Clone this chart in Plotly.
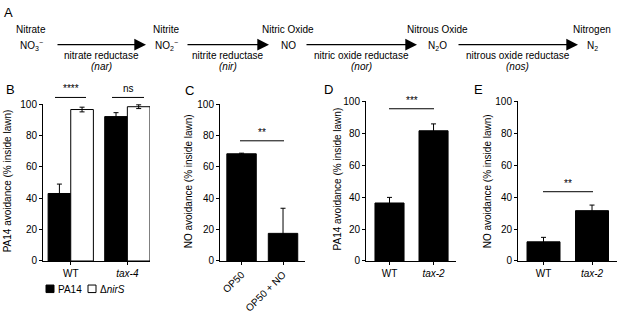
import plotly.graph_objects as go

W, H = 617, 314
FONT = "Liberation Sans, Arial, sans-serif"

# ---------------- data ----------------
b_groups = ["WT", "<i>tax-4</i>"]
b_pa14 = [43.0, 92.0]
b_pa14_err = [6.0, 2.5]
b_nirs = [96.5, 98.3]
b_nirs_err = [1.5, 1.2]

c_cats = ["OP50", "OP50 + NO"]
c_vals = [68.3, 17.6]
c_err = [0.4, 16.0]

d_cats = ["WT", "<i>tax-2</i>"]
d_vals = [36.3, 81.5]
d_err = [3.5, 4.3]

e_cats = ["WT", "<i>tax-2</i>"]
e_vals = [12.0, 31.5]
e_err = [2.8, 3.5]

y_ticks = [0, 20, 40, 60, 80, 100]

# pathway (panel A)
species = ["Nitrate", "Nitrite", "Nitric Oxide", "Nitrous Oxide", "Nitrogen"]
formulas = ["NO<sub>3</sub><sup>\u2212</sup>", "NO<sub>2</sub><sup>\u2212</sup>", "NO",
            "N<sub>2</sub>O", "N<sub>2</sub>"]
enzymes = ["nitrate reductase", "nitrite reductase", "nitric oxide reductase",
           "nitrous oxide reductase"]
genes = ["nar", "nir", "nor", "nos"]


def px(x):
    return x / W


def py(y):
    return 1 - y / H


fig = go.Figure()

err_style = dict(type="data", visible=True, color="black", thickness=1, width=2.5)

# Panel B
fig.add_trace(go.Bar(x=b_groups, y=b_pa14, width=0.4, offset=-0.4, marker=dict(color="black", line=dict(color="black", width=1)),
                     error_y=dict(array=b_pa14_err, **err_style), xaxis="x", yaxis="y", showlegend=False))
fig.add_trace(go.Bar(x=b_groups, y=b_nirs, width=0.4, offset=0.0, marker=dict(color="white", line=dict(color="black", width=1)),
                     error_y=dict(array=b_nirs_err, **err_style), xaxis="x", yaxis="y", showlegend=False))
# Panel C
fig.add_trace(go.Bar(x=c_cats, y=c_vals, width=0.71, marker=dict(color="black", line=dict(color="black", width=1)),
                     error_y=dict(array=c_err, **err_style), xaxis="x2", yaxis="y2", showlegend=False))
# Panel D
fig.add_trace(go.Bar(x=d_cats, y=d_vals, width=0.66, marker=dict(color="black", line=dict(color="black", width=1)),
                     error_y=dict(array=d_err, **err_style), xaxis="x3", yaxis="y3", showlegend=False))
# Panel E
fig.add_trace(go.Bar(x=e_cats, y=e_vals, width=0.68, marker=dict(color="black", line=dict(color="black", width=1)),
                     error_y=dict(array=e_err, **err_style), xaxis="x4", yaxis="y4", showlegend=False))

tickfont = dict(family=FONT, size=10, color="black")


def xax(x0, x1, rng, anchor, angle=0):
    return dict(domain=[px(x0), px(x1)], range=rng, type="category", anchor=anchor,
                showline=True, linecolor="black", linewidth=1, ticks="outside", ticklen=3,
                tickwidth=1, tickcolor="black", showgrid=False, zeroline=False,
                tickfont=tickfont, tickangle=angle, fixedrange=True)


def yax(y0, y1, anchor):
    return dict(domain=[py(y0), py(y1)], range=[0, 100], anchor=anchor, tickvals=y_ticks,
                showline=True, linecolor="black", linewidth=1, ticks="outside", ticklen=3,
                tickwidth=1, tickcolor="black", showgrid=False, zeroline=False,
                tickfont=tickfont, fixedrange=True)


fig.update_layout(
    width=W, height=H, margin=dict(l=0, r=0, t=0, b=0),
    paper_bgcolor="white", plot_bgcolor="white", barmode="overlay",
    font=dict(family=FONT, size=10, color="black"),
    xaxis=xax(43, 150, [-0.49, 1.40], "y"),
    yaxis=yax(270.5, 104, "x"),
    xaxis2=xax(220, 305, [-0.52, 1.53], "y2", angle=-45),
    yaxis2=yax(270.5, 104, "x2"),
    xaxis3=xax(366, 456, [-0.534, 1.51], "y3"),
    yaxis3=yax(270.5, 101, "x3"),
    xaxis4=xax(518, 617, [-0.526, 1.515], "y4"),
    yaxis4=yax(270.5, 101, "x4"),
)

ann = []
shapes = []


def text(x, y, t, size=10, xanchor="center", yanchor="middle", angle=0):
    ann.append(dict(x=px(x), y=py(y), xref="paper", yref="paper", text=t, showarrow=False,
                    xanchor=xanchor, yanchor=yanchor, textangle=angle,
                    font=dict(family=FONT, size=size, color="black")))


# panel letters
for lab, (x, y) in zip(["A", "B", "C", "D", "E"],
                       [(2, 7), (4, 89), (183, 90), (322, 89), (472, 89)]):
    text(x, y, lab, size=13, xanchor="left")

# Panel A pathway
sp_x = [31, 166, 288, 437, 592]
for s, f, x in zip(species, formulas, sp_x):
    text(x, 25, s)
    text(x, 42, f)
arrow_x = [(56, 146), (186, 269), (305, 417), (457, 578)]
for (x0, x1), enz, g in zip(arrow_x, enzymes, genes):
    ann.append(dict(x=px(x1), y=py(41), xref="paper", yref="paper", ax=-(x1 - x0), ay=0,
                    axref="pixel", ayref="pixel", text="", showarrow=True, arrowhead=2,
                    arrowsize=1.8, arrowwidth=1.3, arrowcolor="black"))
    xc = (x0 + x1) / 2
    text(xc, 53, enz)
    text(xc, 64, "<i>(" + g + ")</i>")

# y-axis titles
text(7, 186, "PA14 avoidance (% inside lawn)", angle=-90)
text(188, 186, "NO avoidance (% inside lawn)", angle=-90)
text(337, 184, "PA14 avoidance (% inside lawn)", angle=-90)
text(487, 186, "NO avoidance (% inside lawn)", angle=-90)

# significance bars
sig = [(55, 86, 97, "****"), (112, 144, 97, "ns"), (240, 284, 143, "**"),
       (389, 434, 109, "***"), (543, 593, 197, "**")]
for x0, x1, y, t in sig:
    shapes.append(dict(type="line", xref="paper", yref="paper", x0=px(x0), x1=px(x1),
                       y0=py(y), y1=py(y), line=dict(color="black", width=1)))
    text((x0 + x1) / 2, y - 1, t, yanchor="bottom")

# legend for B
shapes.append(dict(type="rect", xref="paper", yref="paper", x0=px(46), x1=px(54),
                   y0=py(304), y1=py(296), fillcolor="black", line=dict(color="black", width=1)))
text(56, 300.5, "PA14", xanchor="left")
shapes.append(dict(type="rect", xref="paper", yref="paper", x0=px(88), x1=px(96),
                   y0=py(304), y1=py(296), fillcolor="white", line=dict(color="black", width=1)))
text(98, 300.5, "\u0394<i>nirS</i>", xanchor="left")

fig.update_layout(annotations=ann, shapes=shapes)
fig.write_html("out.html", config={"displayModeBar": False},
               post_script="document.body.style.margin='0';document.body.style.padding='0';")
